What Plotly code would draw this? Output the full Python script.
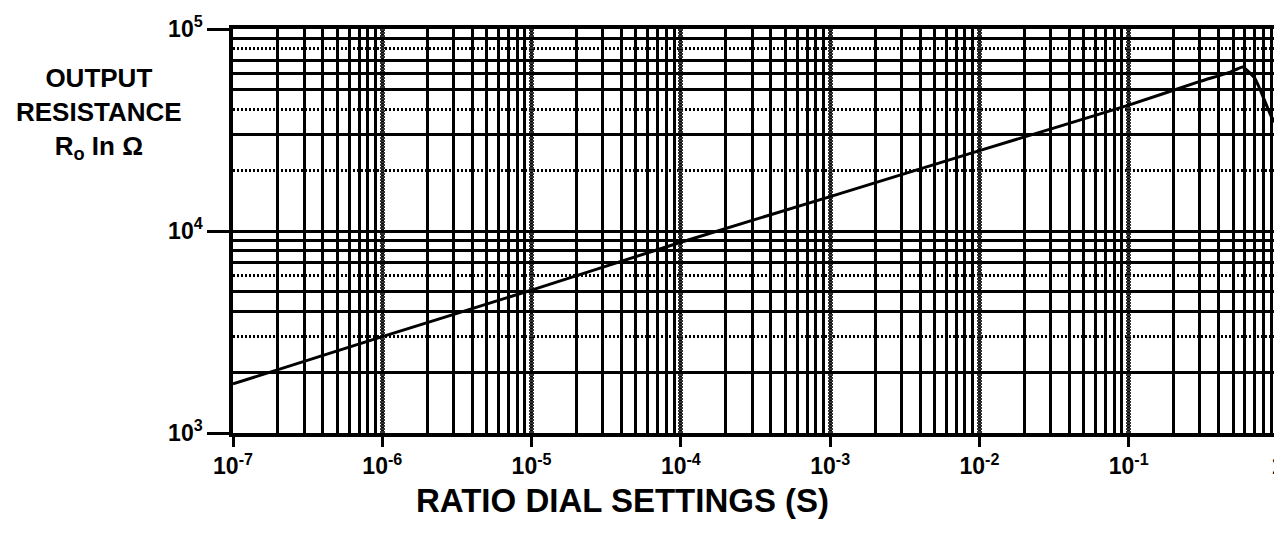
import plotly.graph_objects as go

# Data
ratio_setting = [1e-7, 1e-6, 1e-5, 1e-4, 1e-3, 1e-2, 1e-1, 0.3, 0.48, 0.58, 0.7, 0.76, 0.9, 1.0]
output_resistance = [1750, 3000, 5100, 8800, 14800, 25000, 42000, 55000, 61200, 64900, 57000, 50000, 37000, 33000]

x_tick_vals = [1e-7, 1e-6, 1e-5, 1e-4, 1e-3, 1e-2, 1e-1, 1]
x_tick_text = ["10<sup>-7</sup>", "10<sup>-6</sup>", "10<sup>-5</sup>", "10<sup>-4</sup>",
               "10<sup>-3</sup>", "10<sup>-2</sup>", "10<sup>-1</sup>", "1"]
y_tick_vals = [1e3, 1e4, 1e5]
y_tick_text = ["10<sup>3</sup>", "10<sup>4</sup>", "10<sup>5</sup>"]
# horizontal grid lines drawn solid (the others are dotted)
y_solid_grid = [2e3, 4e3, 5e3, 7e3, 8e3, 9e3, 3e4, 5e4, 6e4, 7e4, 9e4]

FONT = "Liberation Sans, Arial, sans-serif"

fig = go.Figure()
# invisible carrier for the main axes
fig.add_trace(go.Scatter(
    x=ratio_setting, y=output_resistance, mode="lines",
    line=dict(color="rgba(0,0,0,0)", width=0),
    showlegend=False, hoverinfo="skip", yaxis="y"))
fig.add_trace(go.Scatter(
    x=ratio_setting, y=output_resistance, mode="lines",
    line=dict(color="black", width=3, shape="spline", smoothing=0.4),
    showlegend=False, hoverinfo="skip", yaxis="y2"))

fig.update_layout(
    width=1274, height=540,
    margin=dict(l=225, r=4, t=21, b=115, autoexpand=False),
    paper_bgcolor="white", plot_bgcolor="white",
    font=dict(family=FONT, color="black"),
)

fig.update_layout(
    xaxis=dict(
        type="log", range=[-7, 0], automargin=False, ticklabeloverflow="allow",
        tickvals=x_tick_vals, ticktext=x_tick_text,
        tickfont=dict(family=FONT, size=23, weight="bold", color="black"),
        ticks="outside", ticklen=10, tickwidth=3, tickcolor="black",
        showline=True, linewidth=3.5, linecolor="black", mirror=True,
        showgrid=True, gridcolor="#333", gridwidth=5, griddash="2px,1px",
        minor=dict(dtick="D1", showgrid=True, gridcolor="black", gridwidth=2.5,
                   griddash="solid", ticks=""),
        zeroline=False,
    ),
    yaxis=dict(
        type="log", range=[3, 5], automargin=False,
        tickvals=y_tick_vals, ticktext=y_tick_text,
        tickfont=dict(family=FONT, size=23, weight="bold", color="black"),
        ticks="outside", ticklen=22, tickwidth=3, tickcolor="black",
        showline=True, linewidth=3.5, linecolor="black", mirror=True,
        showgrid=True, gridcolor="black", gridwidth=3,
        minor=dict(dtick="D1", showgrid=True, gridcolor="black", gridwidth=3,
                   griddash="2px,2px", ticks=""),
        zeroline=False,
    ),
    yaxis2=dict(
        type="log", range=[3, 5], overlaying="y", side="left", automargin=False,
        tickvals=y_solid_grid, showticklabels=False, ticks="",
        showgrid=True, gridcolor="black", gridwidth=2.5,
        showline=False, zeroline=False,
    ),
)

fig.add_annotation(
    text="<b>OUTPUT<br>RESISTANCE<br>R<sub>o</sub> In Ω</b>",
    xref="paper", yref="paper", x=-0.128, y=0.79, xanchor="center", yanchor="middle",
    showarrow=False, align="center",
    font=dict(family=FONT, size=26, color="black"))

fig.add_annotation(
    text="<b>RATIO DIAL SETTINGS (S)</b>",
    xref="paper", yref="paper", x=0.373, y=-0.166, xanchor="center", yanchor="middle",
    showarrow=False,
    font=dict(family=FONT, size=33, color="black"))

fig.write_html("out.html")
